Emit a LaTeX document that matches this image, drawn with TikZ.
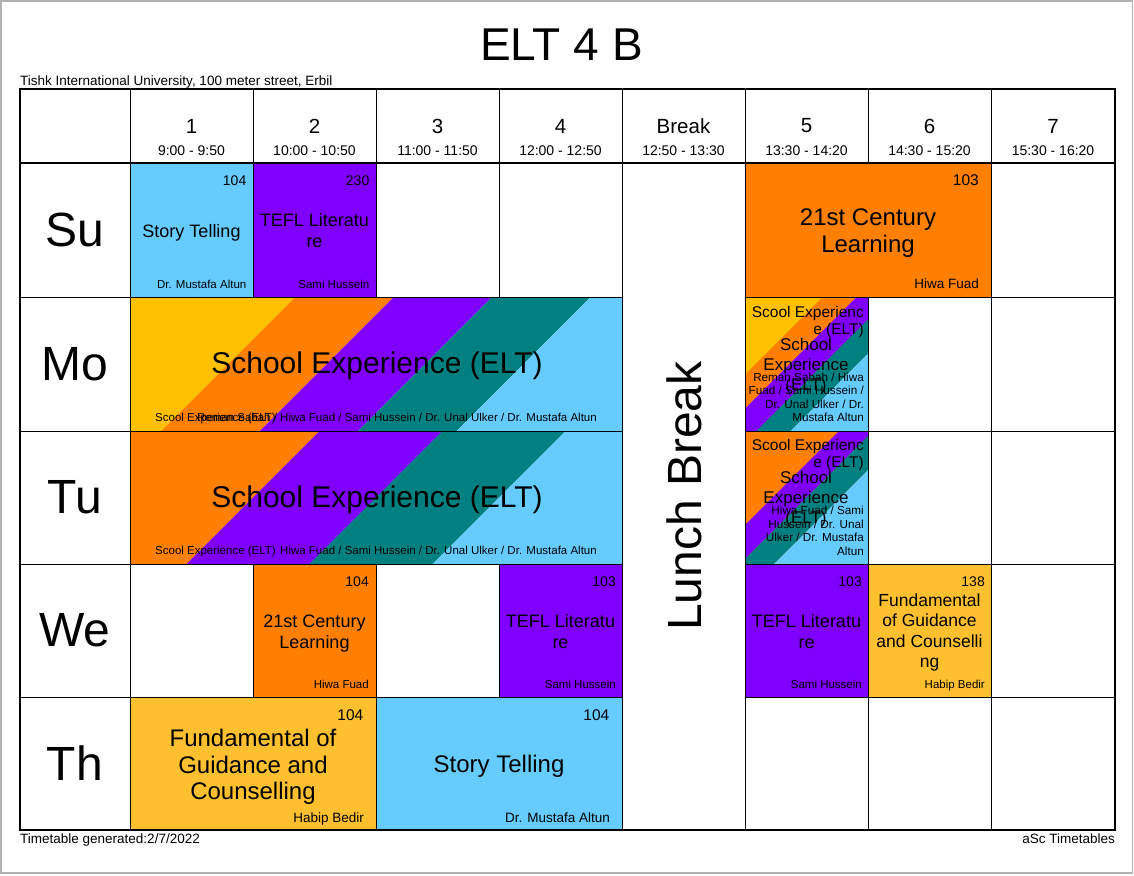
\documentclass[tikz,border=0pt]{standalone}
\usepackage{fontspec}
\setmainfont{Liberation Sans}
\definecolor{cBlue}{HTML}{66CCFF}
\definecolor{cPurple}{HTML}{8000FF}
\definecolor{cOrange}{HTML}{FF8000}
\definecolor{cTeal}{HTML}{008080}
\definecolor{cYellow}{HTML}{FFC000}
\definecolor{cGold}{HTML}{FFC030}

\begin{document}
\begin{tikzpicture}[x=1pt, y=-1pt,
    cell/.style={draw=black, line width=1pt},
    room/.style={anchor=base east, inner sep=0pt, font=\fontsize{14}{16}\selectfont},
    bigroom/.style={room, font=\fontsize{15.5}{17}\selectfont},
    tch/.style={anchor=base east, inner sep=0pt, font=\fontsize{11.5}{13}\selectfont},
    bigtch/.style={tch, font=\fontsize{13.5}{15}\selectfont},
    subj/.style={align=center, inner sep=0pt, font=\fontsize{18}{21}\selectfont},
    bigsubj/.style={subj, font=\fontsize{24}{26.5}\selectfont}]
    \useasboundingbox (0,0) rectangle (1134,875);
    \draw[line width=1.5pt, black!30] (1,1) rectangle (1132.5,873);

    % stripes of the shared lessons
    \fill[cYellow] (130,297) -- (295.4,297) -- (161.4,431) -- (130,431) -- cycle;
    \fill[cOrange] (295.4,297) -- (393.8,297) -- (259.8,431) -- (161.4,431) -- cycle;
    \fill[cPurple] (393.8,297) -- (492.2,297) -- (358.2,431) -- (259.8,431) -- cycle;
    \fill[cTeal] (492.2,297) -- (590.6,297) -- (456.6,431) -- (358.2,431) -- cycle;
    \fill[cBlue] (590.6,297) -- (622,297) -- (622,431) -- (456.6,431) -- cycle;
    \fill[cOrange] (130,431) -- (319.5,431) -- (186.5,564) -- (130,564) -- cycle;
    \fill[cPurple] (319.5,431) -- (442.5,431) -- (309.5,564) -- (186.5,564) -- cycle;
    \fill[cTeal] (442.5,431) -- (565.5,431) -- (432.5,564) -- (309.5,564) -- cycle;
    \fill[cBlue] (565.5,431) -- (622,431) -- (622,564) -- (432.5,564) -- cycle;
    \begin{scope}
        \clip (745,297) rectangle (868,431);
        \fill[cYellow] (745,297) rectangle (868,431);
        \fill[cOrange] (822.5,297) -- (856.5,297) -- (722.5,431) -- (688.5,431) -- cycle;
        \fill[cPurple] (856.5,297) -- (890.5,297) -- (756.5,431) -- (722.5,431) -- cycle;
        \fill[cTeal] (890.5,297) -- (924.5,297) -- (790.5,431) -- (756.5,431) -- cycle;
        \fill[cBlue] (924.5,297) -- (1000,297) -- (1000,431) -- (790.5,431) -- cycle;
    \end{scope}
    \begin{scope}
        \clip (745,431) rectangle (868,564);
        \fill[cOrange] (745,431) rectangle (868,564);
        \fill[cPurple] (839,431) -- (873,431) -- (740,564) -- (706,564) -- cycle;
        \fill[cTeal] (873,431) -- (907,431) -- (774,564) -- (740,564) -- cycle;
        \fill[cBlue] (907,431) -- (1000,431) -- (1000,564) -- (774,564) -- cycle;
    \end{scope}

    % cells
    \draw[cell] (20,89) rectangle (130,163);
    \draw[cell] (130,89) rectangle (253,163);
    \draw[cell] (253,89) rectangle (376,163);
    \draw[cell] (376,89) rectangle (499,163);
    \draw[cell] (499,89) rectangle (622,163);
    \draw[cell] (622,89) rectangle (745,163);
    \draw[cell] (745,89) rectangle (868,163);
    \draw[cell] (868,89) rectangle (991,163);
    \draw[cell] (991,89) rectangle (1115,163);
    \draw[cell] (20,163) rectangle (130,297);
    \draw[cell] (20,297) rectangle (130,431);
    \draw[cell] (20,431) rectangle (130,564);
    \draw[cell] (20,564) rectangle (130,697);
    \draw[cell] (20,697) rectangle (130,830);
    \draw[cell] (622,163) rectangle (745,830);
    \draw[cell, fill=cBlue] (130,163) rectangle (253,297);
    \draw[cell, fill=cPurple] (253,163) rectangle (376,297);
    \draw[cell] (376,163) rectangle (499,297);
    \draw[cell] (499,163) rectangle (622,297);
    \draw[cell, fill=cOrange] (745,163) rectangle (991,297);
    \draw[cell] (991,163) rectangle (1115,297);
    \draw[cell] (130,297) rectangle (622,431);
    \draw[cell] (745,297) rectangle (868,431);
    \draw[cell] (868,297) rectangle (991,431);
    \draw[cell] (991,297) rectangle (1115,431);
    \draw[cell] (130,431) rectangle (622,564);
    \draw[cell] (745,431) rectangle (868,564);
    \draw[cell] (868,431) rectangle (991,564);
    \draw[cell] (991,431) rectangle (1115,564);
    \draw[cell] (130,564) rectangle (253,697);
    \draw[cell, fill=cOrange] (253,564) rectangle (376,697);
    \draw[cell] (376,564) rectangle (499,697);
    \draw[cell, fill=cPurple] (499,564) rectangle (622,697);
    \draw[cell, fill=cPurple] (745,564) rectangle (868,697);
    \draw[cell, fill=cGold] (868,564) rectangle (991,697);
    \draw[cell] (991,564) rectangle (1115,697);
    \draw[cell, fill=cGold] (130,697) rectangle (376,830);
    \draw[cell, fill=cBlue] (376,697) rectangle (622,830);
    \draw[cell] (745,697) rectangle (868,830);
    \draw[cell] (868,697) rectangle (991,830);
    \draw[cell] (991,697) rectangle (1115,830);
    \draw[line width=2pt] (20,89) rectangle (1115,830);
    \draw[line width=2pt] (20,163) -- (1115,163);

    % titles
    \node[font=\fontsize{46}{50}\selectfont, inner sep=0pt] (title) at (561.5,45) {ELT 4 B};
    \node[font=\fontsize{13.5}{15}\selectfont, anchor=base west, inner sep=0pt] (addr) at (20,85) {Tishk International University, 100 meter street, Erbil};
    \node[font=\fontsize{13.5}{15}\selectfont, anchor=base west, inner sep=0pt] (gen) at (20,843) {Timetable generated:2/7/2022};
    \node[font=\fontsize{13.5}{15}\selectfont, anchor=base east, inner sep=0pt] (asc) at (1115,843) {aSc Timetables};

    % header
    \begin{scope}[every node/.style={inner sep=0pt, font=\fontsize{20.5}{22}\selectfont}]
        \node (p1) at (191.5,126) {1};
        \node (p2) at (314.5,126) {2};
        \node (p3) at (437.5,126) {3};
        \node (p4) at (560.5,126) {4};
        \node (pb) at (683.5,126) {Break};
        \node (p5) at (806.5,126) {5};
        \node (p6) at (929.5,126) {6};
        \node (p7) at (1053,126) {7};
    \end{scope}
    \begin{scope}[every node/.style={inner sep=0pt, font=\fontsize{14}{16}\selectfont}]
        \node (t1) at (191.5,151) {9:00 - 9:50};
        \node (t2) at (314.5,151) {10:00 - 10:50};
        \node (t3) at (437.5,151) {11:00 - 11:50};
        \node (t4) at (560.5,151) {12:00 - 12:50};
        \node (tb) at (683.5,151) {12:50 - 13:30};
        \node (t5) at (806.5,151) {13:30 - 14:20};
        \node (t6) at (929.5,151) {14:30 - 15:20};
        \node (t7) at (1053,151) {15:30 - 16:20};
    \end{scope}

    % days
    \begin{scope}[every node/.style={inner sep=0pt, font=\fontsize{48}{50}\selectfont}]
        \node (su) at (75,230) {Su};
        \node (mo) at (75,364) {Mo};
        \node (tu) at (75,497.5) {Tu};
        \node (we) at (75,630.5) {We};
        \node (th) at (75,763.5) {Th};
        \node[rotate=90] (lunch) at (684,496) {Lunch Break};
    \end{scope}

    % Sunday
    \node[room] (su1r) at (246.5,185) {104};
    \node[subj] (su1s) at (191.5,232.5) {Story Telling};
    \node[tch] (su1t) at (246.5,288) {Dr. Mustafa Altun};
    \node[room] (su2r) at (369.5,185) {230};
    \node[subj] (su2s) at (314.5,231) {TEFL Literatu\\re};
    \node[tch] (su2t) at (369.5,288) {Sami Hussein};
    \node[bigroom] (su5r) at (979,185) {103};
    \node[bigsubj] (su5s) at (868,233) {21st Century\\Learning};
    \node[bigtch] (su5t) at (979,288) {Hiwa Fuad};

    % Monday
    \node[subj, font=\fontsize{30}{32}\selectfont] (mo1s) at (377,366) {School Experience (ELT)};
    \node[tch, anchor=base west] (mo1g) at (155,421) {Scool Experience (ELT)};
    \node[tch] (mo1t) at (597,421) {Reman Sabah / Hiwa Fuad / Sami Hussein / Dr. Unal Ulker / Dr. Mustafa Altun};
    \node[align=right, anchor=north east, inner sep=0pt, font=\fontsize{15.5}{17}\selectfont] (mo5g) at (864,306) {Scool Experienc\\e (ELT)};
    \node[subj, font=\fontsize{17}{20}\selectfont] (mo5s) at (806,366) {School\\Experience\\(ELT)};
    \node[align=right, anchor=south east, inner sep=0pt, font=\fontsize{11.7}{13.5}\selectfont] (mo5t) at (864,422) {Reman Sabah / Hiwa\\Fuad / Sami Hussein /\\Dr. Unal Ulker / Dr.\\Mustafa Altun};

    % Tuesday
    \node[subj, font=\fontsize{30}{32}\selectfont] (tu1s) at (377,500) {School Experience (ELT)};
    \node[tch, anchor=base west] (tu1g) at (155,554) {Scool Experience (ELT)};
    \node[tch] (tu1t) at (597,554) {Hiwa Fuad / Sami Hussein / Dr. Unal Ulker / Dr. Mustafa Altun};
    \node[align=right, anchor=north east, inner sep=0pt, font=\fontsize{15.5}{17}\selectfont] (tu5g) at (864,439) {Scool Experienc\\e (ELT)};
    \node[subj, font=\fontsize{17}{20}\selectfont] (tu5s) at (806,499) {School\\Experience\\(ELT)};
    \node[align=right, anchor=south east, inner sep=0pt, font=\fontsize{11.7}{13.5}\selectfont] (tu5t) at (864,555.5) {Hiwa Fuad / Sami\\Hussein / Dr. Unal\\Ulker / Dr. Mustafa\\Altun};

    % Wednesday
    \node[room] (we2r) at (369,586) {104};
    \node[subj] (we2s) at (314.5,633.5) {21st Century\\Learning};
    \node[tch] (we2t) at (369,688) {Hiwa Fuad};
    \node[room] (we4r) at (616,586) {103};
    \node[subj] (we4s) at (560.5,631.5) {TEFL Literatu\\re};
    \node[tch] (we4t) at (616,688) {Sami Hussein};
    \node[room] (we5r) at (862,586) {103};
    \node[subj] (we5s) at (806.5,631.5) {TEFL Literatu\\re};
    \node[tch] (we5t) at (862,688) {Sami Hussein};
    \node[room] (we6r) at (985,586) {138};
    \node[subj, font=\fontsize{17.5}{20.5}\selectfont] (we6s) at (929.5,632.5) {Fundamental\\of Guidance\\and Counselli\\ng};
    \node[tch] (we6t) at (985,688) {Habip Bedir};

    % Thursday
    \node[bigroom] (th1r) at (363.5,720) {104};
    \node[bigsubj] (th1s) at (253,767) {Fundamental of\\Guidance and\\Counselling};
    \node[bigtch] (th1t) at (364,822) {Habip Bedir};
    \node[bigroom] (th3r) at (609.5,720) {104};
    \node[bigsubj] (th3s) at (499,766) {Story Telling};
    \node[bigtch] (th3t) at (610,822) {Dr. Mustafa Altun};
\end{tikzpicture}
\end{document}
